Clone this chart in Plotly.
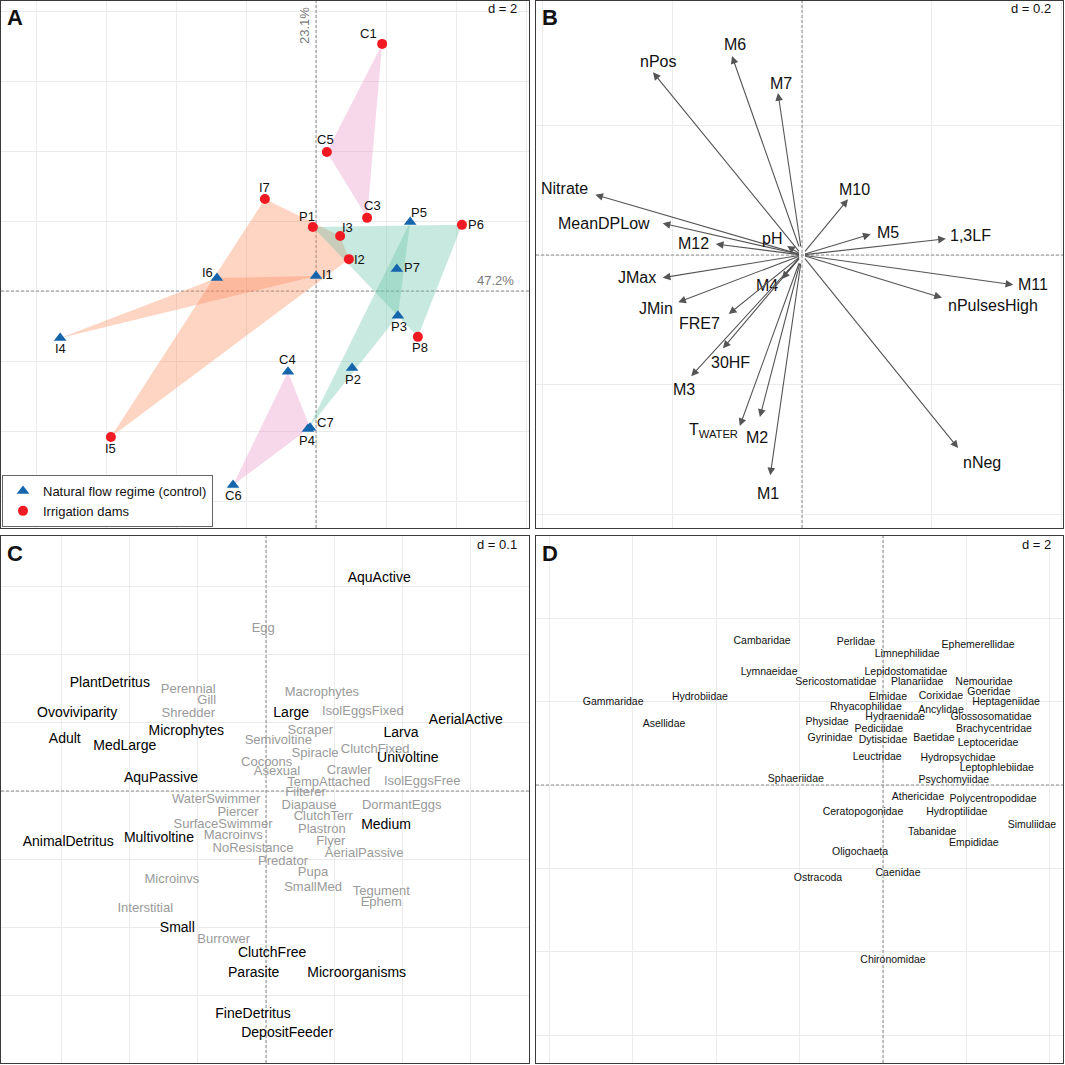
import plotly.graph_objects as go

W = H = 1065
FONT = "Liberation Sans, Arial, sans-serif"

# ---------------- Panel A : sites ----------------
site_names = ["C1", "C5", "I7", "C3", "P5", "P6", "P1", "I3", "I2", "I6", "I1",
              "P7", "P3", "P8", "I4", "C4", "P2", "C7", "P4", "I5", "C6"]
site_x = [1.89, 0.31, -1.46, 1.46, 2.69, 4.17, -0.09, 0.69, 0.94, -2.83, 0.00,
          2.31, 2.34, 2.91, -7.31, -0.80, 1.03, -0.17, -0.23, -5.86, -2.37]
site_y = [7.06, 3.97, 2.63, 2.09, 1.97, 1.89, 1.83, 1.57, 0.91, 0.37, 0.43,
          0.63, -0.71, -1.31, -1.34, -2.31, -2.20, -3.91, -3.94, -4.17, -5.54]
site_regime = ["dam", "dam", "dam", "dam", "ctrl", "dam", "dam", "dam", "dam", "ctrl", "ctrl",
               "ctrl", "ctrl", "dam", "ctrl", "ctrl", "ctrl", "ctrl", "ctrl", "dam", "ctrl"]
regime_labels = {"ctrl": "Natural flow regime (control)", "dam": "Irrigation dams"}
axis_pct = ["47.2%", "23.1%"]

# ---------------- Panel B : environmental arrows ----------------
env_vars = ["nPos", "M6", "M7", "Nitrate", "MeanDPLow", "M12", "pH", "M10", "M5", "1,3LF",
            "JMax", "M11", "M4", "JMin", "nPulsesHigh", "FRE7", "30HF", "M3",
            "T<sub>WATER</sub>", "M2", "M1", "nNeg"]
env_x = [-0.230, -0.108, -0.037, -0.319, -0.215, -0.133, -0.023, 0.071, 0.106, 0.222,
         -0.215, 0.326, -0.031, -0.191, 0.216, -0.113, -0.122, -0.171,
         -0.096, -0.065, -0.049, 0.241]
env_y = [0.282, 0.307, 0.250, 0.093, 0.049, 0.017, 0.014, 0.086, 0.032, 0.025,
         -0.035, -0.046, -0.037, -0.073, -0.066, -0.091, -0.144, -0.187,
         -0.264, -0.250, -0.340, -0.298]

# ---------------- Panel C : traits ----------------
trait_main = ["AquActive", "PlantDetritus", "Ovoviviparity", "Large", "AerialActive", "Microphytes",
              "Larva", "Adult", "MedLarge", "Univoltine", "AquPassive", "Medium", "Multivoltine",
              "AnimalDetritus", "Small", "ClutchFree", "Parasite", "Microorganisms",
              "FineDetritus", "DepositFeeder"]
trait_main_x = [0.166, -0.229, -0.277, 0.037, 0.293, -0.117, 0.198, -0.295, -0.207, 0.208, -0.154,
                0.176, -0.157, -0.290, -0.130, 0.009, -0.018, 0.133, -0.019, 0.031]
trait_main_y = [0.312, 0.157, 0.114, 0.113, 0.104, 0.087, 0.085, 0.076, 0.065, 0.047, 0.019,
                -0.050, -0.069, -0.076, -0.201, -0.238, -0.267, -0.267, -0.328, -0.356]

trait_minor = ["Egg", "Perennial", "Gill", "Shredder", "Macrophytes", "IsolEggsFixed", "Scraper",
               "Semivoltine", "Spiracle", "ClutchFixed", "Cocoons", "Asexual", "Crawler",
               "TempAttached", "IsolEggsFree", "Filterer", "WaterSwimmer", "Diapause", "DormantEggs",
               "Piercer", "ClutchTerr", "SurfaceSwimmer", "Plastron", "Macroinvs", "Flyer",
               "NoResistance", "AerialPassive", "Predator", "Pupa", "Microinvs", "SmallMed",
               "Tegument", "Ephem", "Interstitial", "Burrower"]
trait_minor_x = [-0.004, -0.114, -0.087, -0.114, 0.082, 0.142, 0.065, 0.018, 0.072, 0.160, 0.001,
                 0.016, 0.122, 0.092, 0.229, 0.058, -0.073, 0.063, 0.199, -0.041, 0.084, -0.063,
                 0.082, -0.048, 0.095, -0.019, 0.144, 0.025, 0.069, -0.138, 0.069, 0.169, 0.169,
                 -0.177, -0.062]
trait_minor_y = [0.238, 0.148, 0.132, 0.114, 0.144, 0.116, 0.089, 0.073, 0.054, 0.060, 0.041,
                 0.028, 0.029, 0.012, 0.013, -0.003, -0.013, -0.021, -0.021, -0.032, -0.038, -0.050,
                 -0.057, -0.066, -0.075, -0.085, -0.092, -0.103, -0.120, -0.130, -0.142, -0.148,
                 -0.164, -0.173, -0.218]

# ---------------- Panel D : taxa ----------------
taxa = ["Cambaridae", "Perlidae", "Ephemerellidae", "Limnephilidae", "Lymnaeidae", "Lepidostomatidae",
        "Sericostomatidae", "Planariidae", "Nemouridae", "Goeridae", "Gammaridae", "Hydrobiidae",
        "Elmidae", "Corixidae", "Heptageniidae", "Rhyacophilidae", "Ancylidae", "Hydraenidae",
        "Glossosomatidae", "Asellidae", "Physidae", "Pediciidae", "Brachycentridae", "Gyrinidae",
        "Dytiscidae", "Baetidae", "Leptoceridae", "Leuctridae", "Hydropsychidae", "Leptophlebiidae",
        "Sphaeriidae", "Psychomyiidae", "Athericidae", "Polycentropodidae", "Ceratopogonidae",
        "Hydroptilidae", "Simuliidae", "Tabanidae", "Empididae", "Oligochaeta", "Caenidae",
        "Ostracoda", "Chironomidae"]
taxa_x = [-2.90, -0.65, 2.28, 0.58, -2.73, 0.55, -1.13, 0.82, 2.42, 2.54, -6.47, -4.39,
          0.12, 1.39, 2.95, -0.41, 1.39, 0.29, 2.59, -5.25, -1.34, -0.10, 2.66, -1.27,
          0.00, 1.22, 2.52, -0.14, 1.80, 2.73, -2.09, 1.70, 0.84, 2.64, -0.48,
          1.77, 3.57, 1.18, 2.18, -0.55, 0.36, -1.56, 0.24]
taxa_y = [3.45, 3.43, 3.36, 3.14, 2.71, 2.69, 2.47, 2.45, 2.47, 2.23, 1.99, 2.11,
          2.11, 2.13, 1.99, 1.87, 1.80, 1.61, 1.61, 1.46, 1.49, 1.34, 1.34, 1.13,
          1.06, 1.13, 1.01, 0.67, 0.65, 0.41, 0.14, 0.12, -0.29, -0.34, -0.65,
          -0.65, -0.96, -1.13, -1.41, -1.61, -2.13, -2.25, -4.20]

# ---------------- layout constants (pixels) ----------------
panels = {
    "A": dict(box=(1, 1, 529, 528), zero=(316, 291), scale=(35.0, 35.0), d=2, dlab="d = 2"),
    "B": dict(box=(536, 1, 1063, 528), zero=(802, 255), scale=(648.0, 648.0), d=0.2, dlab="d = 0.2"),
    "C": dict(box=(1, 536, 529, 1063), zero=(266, 791), scale=(682.0, 682.0), d=0.1, dlab="d = 0.1"),
    "D": dict(box=(536, 536, 1063, 1063), zero=(883, 785), scale=(41.7, 41.7), d=2, dlab="d = 2"),
}
axis_ids = {"A": ("x", "y"), "B": ("x2", "y2"), "C": ("x3", "y3"), "D": ("x4", "y4")}

site_label_shift = {"C1": (-14, -10), "C5": (-1, -13), "I7": (0, -11), "C3": (5, -12), "P5": (9, -10),
                    "P6": (14, 0), "P1": (-6, -10), "I3": (7, -9), "I2": (11, 0), "I6": (-9, -6),
                    "I1": (11, -1), "P7": (15, -1), "P3": (1, 11), "P8": (2, 11), "I4": (0, 11),
                    "C4": (-1, -12), "P2": (1, 11), "C7": (15, -5), "P4": (-1, 12), "I5": (0, 12),
                    "C6": (0, 11)}
env_label_shift = [(5, -11), (3, -12), (3, -10), (-31, -6), (-59, 0), (-22, 0), (-15, -7), (6, -10),
                   (17, -2), (25, -3), (-26, 0), (20, 0), (-15, 7), (-22, 6), (51, 8), (-29, 10),
                   (8, 14), (-7, 13), (-26, 4), (-3, 20), (-2, 18), (24, 14)]

group_fill = {"C": "rgba(231,138,195,0.33)", "I": "rgba(252,141,98,0.38)", "P": "rgba(102,194,165,0.36)"}
marker_style = {"ctrl": dict(symbol="triangle-up", color="#1565AD", size=11),
                "dam": dict(symbol="circle", color="#F21A22", size=10)}

fig = go.Figure()
layout_axes = {}
annotations = []

for key, p in panels.items():
    x0, y0, x1, y1 = p["box"]
    zx, zy = p["zero"]
    sx, sy = p["scale"]
    xa, ya = axis_ids[key]
    xname = "xaxis" + xa[1:]
    yname = "yaxis" + ya[1:]
    common = dict(showgrid=True, gridcolor="#EBEBEB", gridwidth=1, dtick=p["d"], tick0=0,
                  zeroline=False, showticklabels=False, ticks="", showline=True, mirror=True,
                  linecolor="#3A3A3A", linewidth=1.3, fixedrange=True)
    xr = [(x0 - zx) / sx, (x1 - zx) / sx]
    yr = [(zy - y1) / sy, (zy - y0) / sy]
    layout_axes[xname] = dict(domain=[x0 / W, x1 / W], range=xr, anchor=ya, **common)
    layout_axes[yname] = dict(domain=[1 - y1 / H, 1 - y0 / H], range=yr, anchor=xa, **common)
    dash = dict(color="#8A8A8A", width=1, dash="3px,2px")
    # dashed origin axes
    fig.add_trace(go.Scatter(x=[0, 0], y=yr, mode="lines", line=dash, hoverinfo="skip",
                             showlegend=False, xaxis=xa, yaxis=ya))
    fig.add_trace(go.Scatter(x=xr, y=[0, 0], mode="lines", line=dash, hoverinfo="skip",
                             showlegend=False, xaxis=xa, yaxis=ya))
    annotations.append(dict(text="<b>%s</b>" % key, xref="paper", yref="paper",
                            x=(x0 + 4) / W, y=1 - (y0 + 17) / H, xanchor="left", yanchor="middle",
                            showarrow=False, font=dict(size=22, color="#111111", family=FONT)))
    annotations.append(dict(text=p["dlab"], xref="paper", yref="paper",
                            x=(x1 - 10) / W, y=1 - (y0 + 8) / H, xanchor="right", yanchor="middle",
                            showarrow=False, font=dict(size=13, color="#111111", family=FONT)))

# ---- Panel A: convex hulls per site group and regime ----
def convex_hull(pts):
    pts = sorted(set(pts))
    if len(pts) <= 2:
        return pts
    def cross(o, a, b):
        return (a[0] - o[0]) * (b[1] - o[1]) - (a[1] - o[1]) * (b[0] - o[0])
    lower, upper = [], []
    for q in pts:
        while len(lower) >= 2 and cross(lower[-2], lower[-1], q) <= 0:
            lower.pop()
        lower.append(q)
    for q in reversed(pts):
        while len(upper) >= 2 and cross(upper[-2], upper[-1], q) <= 0:
            upper.pop()
        upper.append(q)
    return lower[:-1] + upper[:-1]

groups = {}
for n, x, y, r in zip(site_names, site_x, site_y, site_regime):
    groups.setdefault((n[0], r), []).append((x, y))
for (letter, r), pts in groups.items():
    h = convex_hull(pts)
    fig.add_trace(go.Scatter(x=[q[0] for q in h] + [h[0][0]], y=[q[1] for q in h] + [h[0][1]],
                             mode="lines", fill="toself", fillcolor=group_fill[letter],
                             line=dict(width=0), hoverinfo="skip", showlegend=False,
                             xaxis="x", yaxis="y"))

for r in ["ctrl", "dam"]:
    idx = [i for i, rr in enumerate(site_regime) if rr == r]
    fig.add_trace(go.Scatter(x=[site_x[i] for i in idx], y=[site_y[i] for i in idx], mode="markers",
                             marker=dict(symbol=marker_style[r]["symbol"], color=marker_style[r]["color"],
                                         size=marker_style[r]["size"], line=dict(width=0)),
                             name=regime_labels[r], text=[site_names[i] for i in idx],
                             xaxis="x", yaxis="y", showlegend=True))

for n, x, y in zip(site_names, site_x, site_y):
    dx, dy = site_label_shift[n]
    annotations.append(dict(text=n, x=x, y=y, xref="x", yref="y", xshift=dx, yshift=-dy,
                            showarrow=False, font=dict(size=13, color="#111111", family=FONT)))

pA = panels["A"]
annotations.append(dict(text=axis_pct[0], xref="paper", yref="y", x=(pA["box"][2] - 13) / W, y=0,
                        xanchor="right", yanchor="bottom", yshift=1, showarrow=False,
                        font=dict(size=13, color="#7A7A7A", family=FONT)))
annotations.append(dict(text=axis_pct[1], xref="x", yref="paper", x=0, y=1 - 5 / H,
                        xanchor="right", yanchor="top", xshift=-2, textangle=-90, showarrow=False,
                        font=dict(size=13, color="#7A7A7A", family=FONT)))

# ---- Panel B: arrows ----
for name, x, y, (dx, dy) in zip(env_vars, env_x, env_y, env_label_shift):
    annotations.append(dict(x=x, y=y, ax=0, ay=0, xref="x2", yref="y2", axref="x2", ayref="y2",
                            text=" ", showarrow=True, arrowhead=2, arrowsize=1.4, arrowwidth=1.1,
                            arrowcolor="#555555", standoff=0, startstandoff=0))
    annotations.append(dict(x=x, y=y, xref="x2", yref="y2", text=name, showarrow=False,
                            xshift=dx, yshift=-dy, font=dict(size=16, color="#111111", family=FONT)))

# ---- Panel C: traits ----
fig.add_trace(go.Scatter(x=trait_minor_x, y=trait_minor_y, text=trait_minor, mode="text",
                         textposition="middle center",
                         textfont=dict(size=13, color="#9A9A9A", family=FONT),
                         hoverinfo="text", showlegend=False, xaxis="x3", yaxis="y3"))
fig.add_trace(go.Scatter(x=trait_main_x, y=trait_main_y, text=trait_main, mode="text",
                         textposition="middle center",
                         textfont=dict(size=14, color="#000000", family=FONT),
                         hoverinfo="text", showlegend=False, xaxis="x3", yaxis="y3"))

# ---- Panel D: taxa ----
fig.add_trace(go.Scatter(x=taxa_x, y=taxa_y, text=taxa, mode="text", textposition="middle center",
                         textfont=dict(size=10.5, color="#111111", family=FONT),
                         hoverinfo="text", showlegend=False, xaxis="x4", yaxis="y4"))

fig.update_layout(
    width=W, height=H, margin=dict(l=0, r=0, t=0, b=0),
    paper_bgcolor="white", plot_bgcolor="white",
    font=dict(family=FONT, color="#111111"),
    annotations=annotations,
    legend=dict(x=2 / W, y=1 - 527 / H, xanchor="left", yanchor="bottom",
                bgcolor="white", bordercolor="#666666", borderwidth=1,
                font=dict(size=13, color="#111111", family=FONT),
                itemwidth=30, tracegroupgap=0),
    **layout_axes,
)

fig.write_html("out.html", config={"displayModeBar": False},
               post_script="document.body.style.margin='0';")
